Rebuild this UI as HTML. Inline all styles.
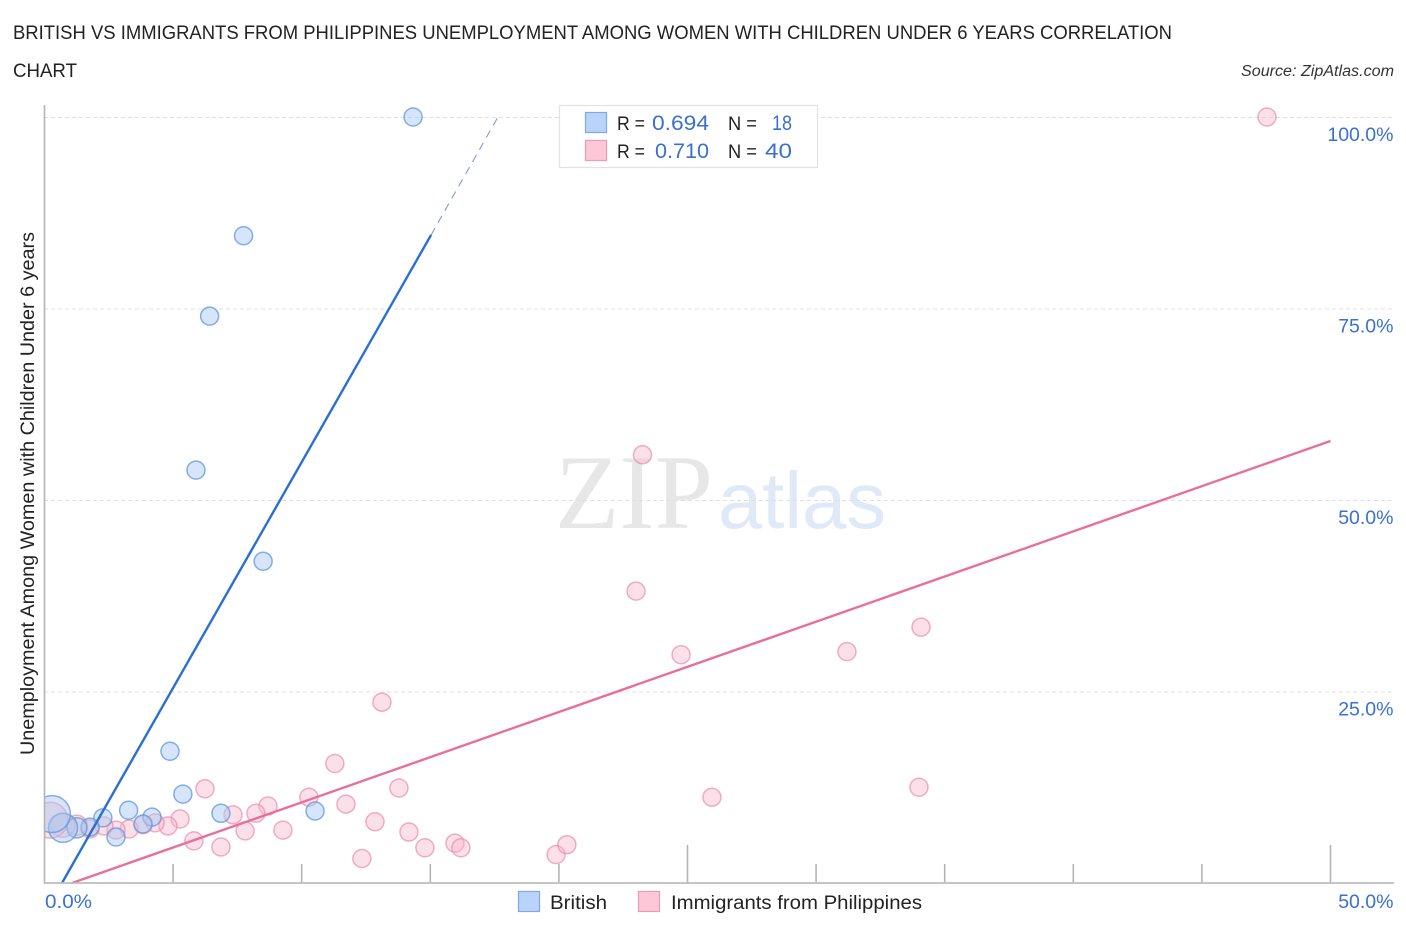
<!DOCTYPE html>
<html lang="en">
<head>
<meta charset="utf-8">
<title>British vs Immigrants from Philippines Correlation Chart</title>
<style>
html,body{margin:0;padding:0;background:#fff;width:1406px;height:930px;overflow:hidden}
svg{display:block;font-family:"Liberation Sans",sans-serif}
.blue{fill:#3a70d0;font-size:19.5px}
.dark{fill:#222;font-size:19px}
</style>
</head>
<body>
<svg id="chart" width="1406" height="930" viewBox="0 0 1406 930" xmlns="http://www.w3.org/2000/svg">
  <text x="13" y="39" font-size="19" fill="#222" textLength="1159" lengthAdjust="spacingAndGlyphs">BRITISH VS IMMIGRANTS FROM PHILIPPINES UNEMPLOYMENT AMONG WOMEN WITH CHILDREN UNDER 6 YEARS CORRELATION</text>
  <text x="13" y="77" font-size="19" fill="#222" textLength="64" lengthAdjust="spacingAndGlyphs">CHART</text>
  <text x="1241" y="76" font-size="15.5" font-style="italic" fill="#333" textLength="153" lengthAdjust="spacingAndGlyphs">Source: ZipAtlas.com</text>
  <g>
    <text x="555" y="528" font-family="'Liberation Serif',serif" font-size="106" fill="#e7e7e7" textLength="158" lengthAdjust="spacingAndGlyphs">ZIP</text>
    <text x="718" y="528" font-size="80" fill="#dfe9f8" textLength="168" lengthAdjust="spacingAndGlyphs">atlas</text>
  </g>
  <g id="grid"></g>
  <g id="points"></g>
  <rect x="0" y="770" width="44" height="80" fill="#fff"/>
  <g id="trends"></g>
  <g id="axes"></g>
  <text transform="translate(34,755) rotate(-90)" font-size="19" fill="#222" textLength="523" lengthAdjust="spacingAndGlyphs">Unemployment Among Women with Children Under 6 years</text>
  <g>
    <rect x="559.5" y="105.5" width="258" height="62" fill="#fff" stroke="#e2e2e2" stroke-width="1.2"/>
    <rect x="585.5" y="112.5" width="21" height="20" fill="#b9d4f8" stroke="#7fa8e6" stroke-width="1.2"/>
    <rect x="585.5" y="140.5" width="21" height="20" fill="#fcc8d8" stroke="#ee9ab5" stroke-width="1.2"/>
    <text class="dark" x="617" y="130" textLength="28" lengthAdjust="spacingAndGlyphs">R =</text>
    <text class="blue" x="652" y="130" style="font-size:21px" textLength="57" lengthAdjust="spacingAndGlyphs">0.694</text>
    <text class="dark" x="728" y="130" textLength="29" lengthAdjust="spacingAndGlyphs">N =</text>
    <text class="blue" x="772" y="130" style="font-size:21px" textLength="20" lengthAdjust="spacingAndGlyphs">18</text>
    <text class="dark" x="617" y="158" textLength="28" lengthAdjust="spacingAndGlyphs">R =</text>
    <text class="blue" x="655" y="158" style="font-size:21px" textLength="54" lengthAdjust="spacingAndGlyphs">0.710</text>
    <text class="dark" x="728" y="158" textLength="29" lengthAdjust="spacingAndGlyphs">N =</text>
    <text class="blue" x="765" y="158" style="font-size:21px" textLength="27" lengthAdjust="spacingAndGlyphs">40</text>
  </g>
  <g>
    <rect x="518.5" y="891.5" width="21" height="20" fill="#b9d4f8" stroke="#7fa8e6" stroke-width="1.2"/>
    <text x="550" y="909" font-size="19" fill="#222" textLength="57" lengthAdjust="spacingAndGlyphs">British</text>
    <rect x="638.5" y="891.5" width="21" height="20" fill="#fcc8d8" stroke="#ee9ab5" stroke-width="1.2"/>
    <text x="671" y="909" font-size="19" fill="#222" textLength="251" lengthAdjust="spacingAndGlyphs">Immigrants from Philippines</text>
  </g>
</svg>
<script>
const xTickValues = [5, 10, 15, 20, 25, 30, 35, 40, 45, 50];
const xMajorTicks = [25, 50];
const xTickLabels = ['0.0%', '50.0%'];
const yTickValues = [25, 50, 75, 100];
const yTickLabels = ['25.0%', '50.0%', '75.0%', '100.0%'];

const britishX = [14.33, 7.74, 6.42, 5.89, 8.50, 4.88, 5.38, 3.27, 2.27, 4.18, 6.86, 10.52, 3.83, 2.78, 1.77, 1.26, 0.72, 0.29];
const britishY = [100, 84.5, 74.0, 53.9, 42.0, 17.2, 11.6, 9.5, 8.5, 8.6, 9.1, 9.4, 7.7, 6.0, 7.3, 7.2, 7.2, 9.0];
const britishWeight = [1, 1, 1, 1, 1, 1, 1, 1, 1, 1, 1, 1, 1, 1, 1, 1.25, 2.6, 4.2];

const philippinesX = [47.53, 23.25, 23.0, 24.75, 31.2, 34.08, 13.12, 11.29, 6.24, 13.78, 25.95, 34.0, 10.28, 8.69, 11.72, 7.33, 8.22, 12.85, 9.27, 7.8, 6.86, 12.34, 14.17, 14.79, 15.96, 16.19, 19.89, 20.31, 5.81, 5.27, 4.8, 4.3, 3.83, 3.29, 2.78, 2.31, 1.77, 1.26, 0.72, 0.21];
const philippinesY = [100, 55.9, 38.1, 29.8, 30.2, 33.4, 23.6, 15.6, 12.3, 12.4, 11.2, 12.5, 11.2, 10.05, 10.3, 8.9, 9.1, 8.0, 6.9, 6.8, 4.7, 3.2, 6.65, 4.6, 5.2, 4.6, 3.7, 5.0, 5.5, 8.35, 7.45, 7.85, 7.6, 7.05, 6.9, 7.45, 7.05, 7.55, 7.55, 8.2];
const philippinesWeight = [1, 1, 1, 1, 1, 1, 1, 1, 1, 1, 1, 1, 1, 1, 1, 1, 1, 1, 1, 1, 1, 1, 1, 1, 1, 1, 1, 1, 1, 1, 1, 1, 1, 1, 1, 1, 1, 1.25, 1.8, 4];

const britishTrendX = [0.68, 15.03];
const britishTrendY = [0, 84.6];
const britishExtensionX = [15.03, 17.63];
const britishExtensionY = [84.6, 100];
const philippinesTrendX = [1.07, 50];
const philippinesTrendY = [0, 57.7];

function xScale(v) { return 44.5 + v * 25.72; }
function yScale(v) { return 883 - v * 7.66; }
function radius(w) { return 9 * Math.sqrt(w); }

const NS = 'http://www.w3.org/2000/svg';
function make(tag, parent, props, text) {
  const el = document.createElementNS(NS, tag);
  for (const k in props) el.setAttribute(k, props[k]);
  if (text !== undefined) el.textContent = text;
  parent.appendChild(el);
  return el;
}

const grid = document.getElementById('grid');
const axes = document.getElementById('axes');
const points = document.getElementById('points');
const trends = document.getElementById('trends');

yTickValues.forEach(function (v, i) {
  const line = make('line', grid, { x1: 44, x2: 1394, y1: yScale(v) + 0.5, y2: yScale(v) + 0.5, stroke: '#e0e0e0', 'stroke-width': 1, 'stroke-dasharray': '4 3' });
  
  
  const label = make('text', axes, { x: 1393.5, y: yScale(v) + 24, 'text-anchor': 'end', class: 'blue' }, yTickLabels[i]);
  
  
});

xTickValues.forEach(function (v) {
  const major = xMajorTicks.indexOf(v) >= 0;
  const tick = make('line', axes, { x1: xScale(v), x2: xScale(v), y1: major ? 845 : 864, y2: 883, stroke: '#b4b4b4', 'stroke-width': 1.6 });
  
  
});

const yAxisLine = make('line', axes, { x1: 44.5, x2: 44.5, y1: 105, y2: 884, stroke: '#b4b4b4', 'stroke-width': 1.6 });



const xAxisLine = make('line', axes, { x1: 44, x2: 1394, y1: 883, y2: 883, stroke: '#bdbdbd', 'stroke-width': 1.8 });



const xLabelLeft = make('text', axes, { x: 45, y: 908, class: 'blue', textLength: 47, lengthAdjust: 'spacingAndGlyphs' }, xTickLabels[0]);



const xLabelRight = make('text', axes, { x: 1393.5, y: 908, 'text-anchor': 'end', class: 'blue' }, xTickLabels[1]);



philippinesX.forEach(function (v, i) {
  const c = make('circle', points, { cx: xScale(v), cy: yScale(philippinesY[i]), r: radius(philippinesWeight[i]), fill: '#f9b6cb', 'fill-opacity': 0.42, stroke: '#e88aa9', 'stroke-opacity': 0.68, 'stroke-width': 1.5 });
  
  
});

britishX.forEach(function (v, i) {
  const c = make('circle', points, { cx: xScale(v), cy: yScale(britishY[i]), r: radius(britishWeight[i]), fill: '#a9c9f3', 'fill-opacity': 0.48, stroke: '#5f95dc', 'stroke-opacity': 0.75, 'stroke-width': 1.5 });
  
  
});

const britishTrend = make('line', trends, { x1: xScale(britishTrendX[0]), y1: yScale(britishTrendY[0]), x2: xScale(britishTrendX[1]), y2: yScale(britishTrendY[1]), stroke: '#2a6fd4', 'stroke-width': 2.4 });



const britishExtension = make('line', trends, { x1: xScale(britishExtensionX[0]), y1: yScale(britishExtensionY[0]), x2: xScale(britishExtensionX[1]), y2: yScale(britishExtensionY[1]), stroke: '#6f93d8', 'stroke-width': 1, 'stroke-dasharray': '8 6' });



const philippinesTrend = make('line', trends, { x1: xScale(philippinesTrendX[0]), y1: yScale(philippinesTrendY[0]), x2: xScale(philippinesTrendX[1]), y2: yScale(philippinesTrendY[1]), stroke: '#e96f9b', 'stroke-width': 2.4 });


</script>
</body>
</html>
